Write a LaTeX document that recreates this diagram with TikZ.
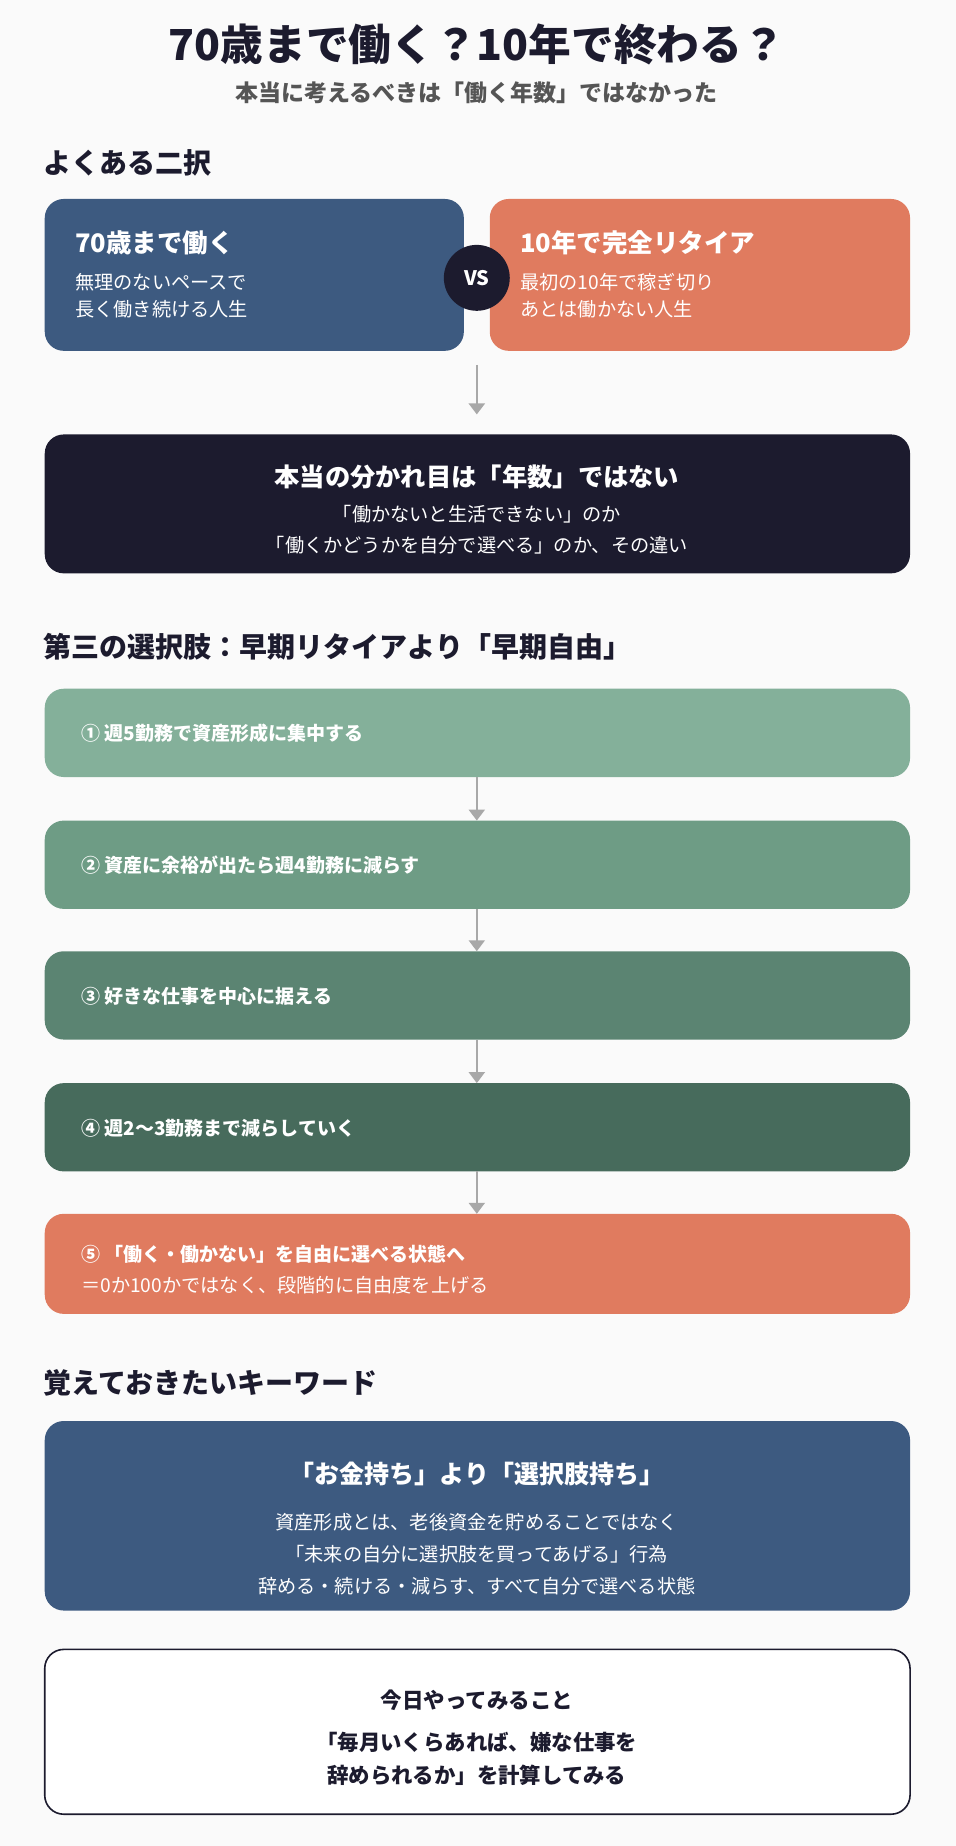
\documentclass[tikz,border=0pt]{standalone}
\usepackage{fontspec}
\setmainfont{Noto Sans CJK JP}
\usetikzlibrary{arrows.meta}
\definecolor{bg}{HTML}{FAFAFA}
\definecolor{navy}{HTML}{3D5A80}
\definecolor{orng}{HTML}{E07B5F}
\definecolor{dark}{HTML}{1C1B2E}
\definecolor{gA}{HTML}{84B09A}
\definecolor{gB}{HTML}{6E9C85}
\definecolor{gC}{HTML}{5B8472}
\definecolor{gD}{HTML}{476B5C}
\definecolor{txt}{HTML}{1C1B2E}
\definecolor{sub}{HTML}{555555}
\definecolor{arr}{HTML}{A8A8A8}
\begin{document}
\begin{tikzpicture}[x=1.1773pt,y=-1.1773pt,
  box/.style={rounded corners=19pt},
  wt/.style={text=white,font=\bfseries\fontsize{25.5}{30}\selectfont,anchor=west},
  ws/.style={text=white,font=\fontsize{19.2}{24}\selectfont,anchor=west},
  wc/.style={text=white,font=\fontsize{19.2}{24}\selectfont},
  sec/.style={text=txt,font=\bfseries\fontsize{28}{32}\selectfont,anchor=west},
  stp/.style={text=white,font=\bfseries\fontsize{19}{24}\selectfont,anchor=west},
  ar/.style={arr,line width=2.5pt,-{Triangle[length=11pt,width=16pt]}}]
\fill[bg] (0,0) rectangle (812,1568);
\useasboundingbox (0,0) rectangle (812,1568);
\node[text=txt,font=\bfseries\fontsize{42.7}{48}\selectfont] (t) at (405,38) {70歳まで働く？10年で終わる？};
\node[text=sub,font=\bfseries\fontsize{23}{28}\selectfont] (st) at (405,79) {本当に考えるべきは「働く年数」ではなかった};
\node[sec] (s1) at (34,138) {よくある二択};
\fill[navy,box] (38,169) rectangle (394,298);
\fill[orng,box] (416,169) rectangle (773,298);
\node[wt] (l1) at (61,206) {70歳まで働く};
\node[ws] (l2) at (61,240) {無理のないペースで};
\node[ws] (l3) at (61,263) {長く働き続ける人生};
\node[wt] (r1) at (439,206) {10年で完全リタイア};
\node[ws] (r2) at (439,240) {最初の10年で稼ぎ切り};
\node[ws] (r3) at (439,263) {あとは働かない人生};
\node[circle,fill=dark,minimum size=56*1.1773pt,inner sep=0,text=white,font=\bfseries\fontsize{20}{22}\selectfont] (vs) at (405,236) {VS};
\coordinate (a1s) at (405,310); \coordinate (a1e) at (405,352);
\draw[ar] (a1s) -- (a1e);
\fill[dark,box] (38,369) rectangle (773,487);
\node[text=white,font=\bfseries\fontsize{25.3}{30}\selectfont] (d1) at (405,405) {本当の分かれ目は「年数」ではない};
\node[wc] (d2) at (405,437) {「働かないと生活できない」のか};
\node[wc] (d3) at (405,463) {「働くかどうかを自分で選べる」のか、その違い};
\node[sec] (s2) at (34,549) {第三の選択肢：早期リタイアより「早期自由」};
\fill[gA,box] (38,585) rectangle (773,660);
\fill[gB,box] (38,697) rectangle (773,772);
\fill[gC,box] (38,808) rectangle (773,883);
\fill[gD,box] (38,920) rectangle (773,995);
\fill[orng,box] (38,1031) rectangle (773,1116);
\node[stp] (p1) at (66,623) {① 週5勤務で資産形成に集中する};
\node[stp] (p2) at (66,735) {② 資産に余裕が出たら週4勤務に減らす};
\node[stp] (p3) at (66,846) {③ 好きな仕事を中心に据える};
\node[stp] (p4) at (66,958) {④ 週2〜3勤務まで減らしていく};
\node[stp] (p5) at (66,1065) {⑤ 「働く・働かない」を自由に選べる状態へ};
\node[ws] (p6) at (66,1092) {＝0か100かではなく、段階的に自由度を上げる};
\foreach \a/\b in {660/697,772/808,883/920,995/1031}{
  \coordinate (u) at (405,\a); \coordinate (v) at (405,\b);
  \draw[ar,line width=2.2pt] (u) -- (v);}
\node[sec] (s3) at (34,1175) {覚えておきたいキーワード};
\fill[navy,box] (38,1207) rectangle (773,1368);
\node[text=white,font=\bfseries\fontsize{25}{30}\selectfont] (k1) at (405,1252) {「お金持ち」より「選択肢持ち」};
\node[wc] (k2) at (405,1293) {資産形成とは、老後資金を貯めることではなく};
\node[wc] (k3) at (405,1320) {「未来の自分に選択肢を買ってあげる」行為};
\node[wc] (k4) at (405,1347) {辞める・続ける・減らす、すべて自分で選べる状態};
\draw[dark,fill=white,line width=1.6pt,rounded corners=19pt] (38,1401) rectangle (773,1541);
\node[text=txt,font=\bfseries\fontsize{21.5}{26}\selectfont] (w1) at (405,1444) {今日やってみること};
\node[text=txt,font=\bfseries\fontsize{21.4}{26}\selectfont] (w2) at (405,1480) {「毎月いくらあれば、嫌な仕事を};
\node[text=txt,font=\bfseries\fontsize{21.4}{26}\selectfont] (w3) at (405,1508) {辞められるか」を計算してみる};
\end{tikzpicture}
\end{document}
